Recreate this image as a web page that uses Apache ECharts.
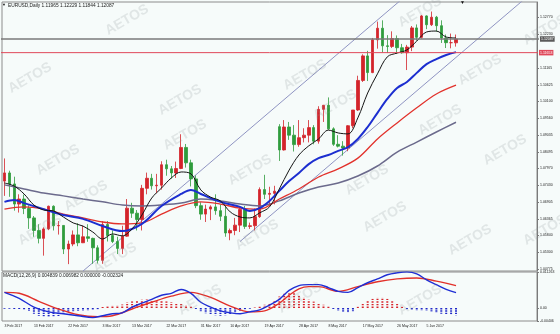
<!DOCTYPE html>
<html>
<head>
<meta charset="utf-8">
<title>EURUSD Daily</title>
<script src="https://cdn.jsdelivr.net/npm/echarts@6.0.0/dist/echarts.min.js"></script>
<style>
html,body{margin:0;padding:0;background:#f6fbfa;}
#chart{width:560px;height:334px;}
</style>
</head>
<body>
<div id="chart"></div>
<script>
const symbolName = 'EURUSD,Daily';
const dates = [
'3 Feb 2017','6 Feb 2017','7 Feb 2017','8 Feb 2017','9 Feb 2017','10 Feb 2017',
'13 Feb 2017','14 Feb 2017','15 Feb 2017','16 Feb 2017','17 Feb 2017',
'20 Feb 2017','21 Feb 2017','22 Feb 2017','23 Feb 2017','24 Feb 2017',
'27 Feb 2017','28 Feb 2017','1 Mar 2017','2 Mar 2017','3 Mar 2017',
'6 Mar 2017','7 Mar 2017','8 Mar 2017','9 Mar 2017','10 Mar 2017',
'13 Mar 2017','14 Mar 2017','15 Mar 2017','16 Mar 2017','17 Mar 2017',
'20 Mar 2017','21 Mar 2017','22 Mar 2017','23 Mar 2017','24 Mar 2017',
'27 Mar 2017','28 Mar 2017','29 Mar 2017','30 Mar 2017','31 Mar 2017',
'3 Apr 2017','4 Apr 2017','5 Apr 2017','6 Apr 2017','7 Apr 2017',
'10 Apr 2017','11 Apr 2017','12 Apr 2017','13 Apr 2017','14 Apr 2017',
'17 Apr 2017','18 Apr 2017','19 Apr 2017','20 Apr 2017','21 Apr 2017',
'24 Apr 2017','25 Apr 2017','26 Apr 2017','27 Apr 2017','28 Apr 2017',
'1 May 2017','2 May 2017','3 May 2017','4 May 2017','5 May 2017',
'8 May 2017','9 May 2017','10 May 2017','11 May 2017','12 May 2017',
'15 May 2017','16 May 2017','17 May 2017','18 May 2017','19 May 2017',
'22 May 2017','23 May 2017','24 May 2017','25 May 2017','26 May 2017',
'29 May 2017','30 May 2017','31 May 2017','1 Jun 2017','2 Jun 2017',
'5 Jun 2017','6 Jun 2017','7 Jun 2017','8 Jun 2017','9 Jun 2017',
'12 Jun 2017','13 Jun 2017'];
const opens = [
1.0757,1.0783,1.0748,1.0684,1.0700,1.0670,1.0640,1.0600,1.0575,1.0605,
1.0677,1.0615,1.0616,1.0541,1.0557,1.0586,1.0561,1.0580,1.0575,1.0545,
1.0505,1.0619,1.0584,1.0565,1.0543,1.0582,1.0671,1.0655,1.0635,1.0734,
1.0766,1.0742,1.0744,1.0809,1.0796,1.0783,1.0797,1.0864,1.0815,1.0764,
1.0679,1.0652,1.0668,1.0675,1.0663,1.0645,1.0592,1.0600,1.0617,1.0667,
1.0613,1.0615,1.0644,1.0730,1.0715,1.0718,1.0930,1.0856,1.0929,1.0903,
1.0873,1.0895,1.0903,1.0927,1.0884,1.0985,1.0998,1.0923,1.0874,1.0868,
1.0862,1.0933,1.0983,1.1077,1.1155,1.1102,1.1206,1.1243,1.1187,1.1185,
1.1210,1.1181,1.1165,1.1183,1.1244,1.1214,1.1282,1.1254,1.1278,1.1251,
1.1212,1.1197,1.11965];
const highs = [
1.0829,1.0790,1.0771,1.0715,1.0714,1.0680,1.0646,1.0620,1.0610,1.0679,
1.0680,1.0630,1.0617,1.0568,1.0600,1.0623,1.0615,1.0620,1.0577,1.0553,
1.0630,1.0630,1.0600,1.0580,1.0615,1.0700,1.0688,1.0665,1.0745,1.0784,
1.0780,1.0780,1.0820,1.0825,1.0805,1.0819,1.0906,1.0875,1.0825,1.0775,
1.0690,1.0682,1.0680,1.0715,1.0682,1.0680,1.0606,1.0640,1.0675,1.0678,
1.0625,1.0670,1.0737,1.0777,1.0739,1.0742,1.0938,1.0951,1.0945,1.0935,
1.0951,1.0925,1.0951,1.0935,1.0995,1.0999,1.1023,1.0928,1.0903,1.0884,
1.0935,1.0983,1.1092,1.1160,1.1171,1.1212,1.1264,1.1268,1.1221,1.1233,
1.1220,1.1193,1.1190,1.1250,1.1255,1.1285,1.1284,1.1296,1.1282,1.1268,
1.1223,1.1226,1.12229];
const lows = [
1.0710,1.0707,1.0663,1.0657,1.0652,1.0605,1.0580,1.0559,1.0520,1.0601,
1.0600,1.0587,1.0525,1.0493,1.0550,1.0550,1.0560,1.0564,1.0494,1.0495,
1.0494,1.0565,1.0560,1.0525,1.0525,1.0580,1.0640,1.0600,1.0600,1.0715,
1.0730,1.0719,1.0730,1.0774,1.0765,1.0767,1.0795,1.0800,1.0740,1.0671,
1.0634,1.0627,1.0633,1.0650,1.0630,1.0580,1.0569,1.0585,1.0595,1.0605,
1.0605,1.0600,1.0640,1.0700,1.0680,1.0683,1.0821,1.0854,1.0888,1.0851,
1.0866,1.0880,1.0880,1.0874,1.0876,1.0945,1.0920,1.0869,1.0864,1.0838,
1.0852,1.0925,1.0980,1.1072,1.1075,1.1100,1.1178,1.1166,1.1164,1.1180,
1.1161,1.1162,1.1110,1.1170,1.1204,1.1210,1.1240,1.1250,1.1232,1.1196,
1.1180,1.1179,1.11844];
const closes = [
1.0783,1.0748,1.0684,1.0700,1.0670,1.0640,1.0600,1.0575,1.0605,1.0677,
1.0615,1.0616,1.0541,1.0557,1.0586,1.0561,1.0580,1.0575,1.0545,1.0505,
1.0619,1.0584,1.0565,1.0543,1.0582,1.0671,1.0655,1.0635,1.0734,1.0766,
1.0742,1.0744,1.0809,1.0796,1.0783,1.0797,1.0864,1.0815,1.0764,1.0679,
1.0652,1.0668,1.0675,1.0663,1.0645,1.0592,1.0600,1.0617,1.0667,1.0613,
1.0615,1.0644,1.0730,1.0715,1.0718,1.0725,1.0856,1.0929,1.0903,1.0873,
1.0895,1.0903,1.0927,1.0884,1.0985,1.0998,1.0923,1.0874,1.0868,1.0862,
1.0933,1.0983,1.1077,1.1155,1.1102,1.1206,1.1243,1.1187,1.1185,1.1210,
1.1181,1.1165,1.1183,1.1244,1.1214,1.1282,1.1254,1.1278,1.1251,1.1212,
1.1197,1.1197,1.12087];

// moving averages: [bar index, price]
const maBlack = [[0,1.0751],[2,1.0741],[4,1.0716],[6,1.0681],[8,1.0665],[10,1.0662],[12,1.0643],[14,1.0624],[16,1.0614],[18,1.0595],[20,1.0573],[22,1.0589],[24,1.0583],[26,1.0605],[28,1.0649],[30,1.0703],[32,1.0735],[34,1.0767],[36,1.0786],[38,1.0780],[40,1.0729],[42,1.0706],[44,1.0694],[46,1.0659],[48,1.0643],[50,1.0640],[52,1.0656],[54,1.0675],[56,1.0732],[58,1.0792],[60,1.0840],[62,1.0869],[64,1.0891],[66,1.0919],[68,1.0910],[70,1.0907],[72,1.0958],[74,1.1037],[76,1.1098],[78,1.1152],[80,1.1164],[82,1.1174],[84,1.1202],[86,1.1231],[88,1.1234],[90,1.1215],[92,1.1212]];
const maBlue = [[0,1.0691],[2,1.0697],[4,1.0687],[8,1.0668],[12,1.0649],[16,1.0637],[20,1.0614],[24,1.0598],[28,1.0621],[32,1.0678],[36,1.0716],[38,1.0729],[40,1.0716],[44,1.0691],[48,1.0675],[50,1.0662],[52,1.0671],[54,1.0694],[56,1.0726],[58,1.0757],[60,1.0783],[62,1.0811],[64,1.0830],[66,1.0840],[68,1.0853],[70,1.0865],[72,1.0891],[74,1.0929],[76,1.0974],[78,1.1018],[80,1.1053],[82,1.1072],[84,1.1101],[86,1.1129],[88,1.1145],[90,1.1158],[92,1.1167]];
const maRed = [[0,1.0668],[4,1.0675],[8,1.0668],[12,1.0652],[16,1.0640],[20,1.0627],[24,1.0621],[28,1.0624],[32,1.0652],[36,1.0678],[40,1.0691],[44,1.0684],[48,1.0671],[52,1.0668],[56,1.0700],[60,1.0732],[64,1.0770],[68,1.0796],[72,1.0830],[76,1.0891],[80,1.0942],[84,1.0990],[88,1.1034],[92,1.1062]];
const maGray = [[0,1.0745],[4,1.0732],[8,1.0719],[12,1.0710],[16,1.0700],[20,1.0691],[24,1.0681],[28,1.0678],[32,1.0681],[36,1.0687],[40,1.0700],[44,1.0694],[48,1.0684],[52,1.0678],[56,1.0694],[60,1.0719],[64,1.0738],[68,1.0751],[72,1.0773],[76,1.0805],[80,1.0849],[84,1.0881],[88,1.0913],[92,1.0944]];
const channelUpper = [[16,1.0471],[82,1.1349]];
const channelLower = [[48,1.0565],[108,1.1363]];
const bidPrice = 1.12087;
const levelPrice = 1.11653;
const priceTicks = [1.12770,1.12230,1.11165,1.10625,1.10100,1.09560,1.09035,1.08495,1.07970,1.07430,1.06905,1.06365,1.05840,1.05300,1.04775];

const macdMain = [[0,0.0049],[3,0.0030],[6,0.0003],[9,-0.0012],[12,-0.0018],[15,-0.0024],[18,-0.0030],[20,-0.0024],[22,-0.0018],[24,-0.0015],[26,0.0003],[28,0.0015],[30,0.0027],[32,0.0040],[34,0.0046],[36,0.0058],[38,0.0046],[40,0.0018],[42,0.0003],[44,-0.0009],[46,-0.0015],[48,-0.0018],[50,-0.0012],[52,-0.0006],[54,0.0009],[56,0.0027],[58,0.0055],[60,0.0070],[62,0.0073],[64,0.0073],[66,0.0064],[68,0.0052],[70,0.0049],[72,0.0064],[74,0.0079],[76,0.0091],[78,0.0104],[80,0.0110],[82,0.0113],[84,0.0107],[86,0.0088],[88,0.0073],[90,0.0058],[92,0.0048]];
const macdSignal = [[0,0.0049],[3,0.0046],[7,0.0021],[11,-0.0003],[15,-0.0021],[19,-0.0027],[22,-0.0024],[26,-0.0003],[30,0.0018],[34,0.0037],[38,0.0049],[42,0.0033],[46,0.0006],[50,-0.0012],[53,-0.0009],[56,0.0015],[58,0.0040],[60,0.0060],[62,0.0067],[64,0.0067],[68,0.0052],[72,0.0067],[76,0.0082],[80,0.0091],[84,0.0094],[88,0.0084],[92,0.0070]];
const macdHist = [
-0.0002,-0.0002,-0.0003,-0.0003,-0.0005,-0.0009,-0.0018,-0.0024,-0.0027,-0.0028,
-0.0027,-0.0025,-0.0020,-0.0012,-0.0010,-0.0009,-0.0008,-0.0007,-0.0006,-0.0004,
0.0003,0.0006,0.0007,0.0008,0.0011,0.0017,0.0021,0.0024,0.0026,0.0027,
0.0026,0.0025,0.0023,0.0021,0.0018,0.0015,0.0013,0.0009,0.0005,-0.0003,
-0.0010,-0.0016,-0.0020,-0.0023,-0.0024,-0.0023,-0.0020,-0.0015,-0.0009,-0.0004,
-0.0002,0.0002,0.0005,0.0010,0.0016,0.0025,0.0036,0.0045,0.0050,0.0047,
0.0041,0.0033,0.0026,0.0020,0.0015,0.0010,0.0005,-0.0003,-0.0008,-0.0012,
-0.0013,-0.0010,0.0004,0.0014,0.0023,0.0029,0.0032,0.0032,0.0029,0.0022,
0.0013,0.0004,-0.0004,-0.0006,-0.0007,-0.0007,-0.0008,-0.0011,-0.0015,-0.0018,
-0.0020,-0.0022,-0.0023];
const macdTicks = [0.011263, 0, -0.00406];
const macdLegend = 'MACD(12,26,9) 0.004839 0.006982 0.000000 -0.002324';
const tickLabels = ['3 Feb 2017','13 Feb 2017','22 Feb 2017','3 Mar 2017','13 Mar 2017','22 Mar 2017','31 Mar 2017','10 Apr 2017','19 Apr 2017','28 Apr 2017','8 May 2017','17 May 2017','26 May 2017','5 Jun 2017'];
const priceMin = 1.04712, priceMax = 1.13263;
const macdMin = -0.00406, macdMax = 0.011263;

// ---------- build ----------
const padSlots = 16; // empty chart shift on the right
const cats = dates.concat(Array.from({length: padSlots}, (_, i) => '\u200b' + i));
const lastCat = cats.length - 1;
const last = dates.length - 1;
const header = symbolName + ' ' + [opens[last], highs[last], lows[last], closes[last]].map(v => v.toFixed(5)).join(' ');
const UP = '#d3242b', DOWN = '#2f9c3c';
const FONT = '"Liberation Sans", Arial, sans-serif';

const wmPos = [[30,78],[127,20],[180,100],[58,160],[86,196],[115,258],[185,135],[250,170],[305,75],[335,105],[257,235],[367,180],[385,217],[420,12],[480,70],[505,150],[470,240],[420,300],[300,298],[200,300],[40,230],[545,30],[545,230],[440,120]];
const graphics = wmPos.map(p => ({
  type: 'text', x: p[0], y: p[1], rotation: Math.PI / 6, silent: true, z: 100,
  style: {text: 'AETOS', font: 'bold 14px ' + FONT, fill: 'rgba(140,150,150,0.2)', align: 'center', verticalAlign: 'middle'}
}));
graphics.push({type: 'text', left: 2, top: 3, z: 110, style: {text: '\u25BC', font: '4px ' + FONT, fill: '#111'}});
graphics.push({type: 'text', left: 8, top: 3, z: 110, style: {text: header, font: '4.8px ' + FONT, fill: '#1a1a1a'}});
graphics.push({type: 'text', left: 3, top: 273, z: 110, style: {text: macdLegend, font: '4.8px ' + FONT, fill: '#1a1a1a'}});
graphics.push({type: 'text', left: 460, top: 0, z: 110, style: {text: '\u25BC', font: '5px ' + FONT, fill: '#111'}});

const lineS = (name, data, color, width, xi, yi) => ({
  name, type: 'line', data, xAxisIndex: xi, yAxisIndex: yi, symbol: 'none', smooth: 0.35,
  lineStyle: {color, width}, silent: true, z: 3
});
const hLine = (name, value, color, boxColor, width) => ({
  name, type: 'line', xAxisIndex: 0, yAxisIndex: 0, silent: true, z: 4, symbol: 'none',
  data: [[-1, value], [lastCat + 1, value]],
  lineStyle: {color, width},
  endLabel: {show: true, distance: 1, formatter: () => value.toFixed(5), backgroundColor: boxColor,
    color: '#fff', fontSize: 3.5, padding: [1, 1, 0.5, 1], fontFamily: FONT}
});

const option = {
  animation: false,
  backgroundColor: '#f6fbfa',
  graphic: graphics,
  grid: [
    {left: 2, right: 23, top: 2, height: 269, show: true, borderColor: '#8c8c8c', borderWidth: 1},
    {left: 2, right: 23, top: 272, height: 49, show: true, borderColor: '#8c8c8c', borderWidth: 1}
  ],
  xAxis: [
    {type: 'category', gridIndex: 0, data: cats, boundaryGap: true, show: false},
    {type: 'category', gridIndex: 1, data: cats, boundaryGap: true,
     axisLine: {show: false}, axisTick: {show: false}, splitLine: {show: false},
     axisLabel: {show: true, interval: (i, v) => tickLabels.indexOf(v) >= 0, align: 'left',
       fontSize: 3.5, color: '#222', margin: 3, fontFamily: FONT}}
  ],
  yAxis: [
    {type: 'value', gridIndex: 0, position: 'right', min: priceMin, max: priceMax,
     splitLine: {show: false},
     axisLine: {show: true, lineStyle: {color: '#7a7a7a'}},
     axisTick: {show: true, length: 2, customValues: priceTicks, lineStyle: {color: '#7a7a7a'}},
     axisLabel: {customValues: priceTicks, formatter: v => v.toFixed(5), fontSize: 3.5, color: '#222', margin: 3, fontFamily: FONT}},
    {type: 'value', gridIndex: 1, position: 'right', min: macdMin, max: macdMax,
     splitLine: {show: false},
     axisLine: {show: true, lineStyle: {color: '#7a7a7a'}},
     axisTick: {show: true, length: 2, customValues: macdTicks, lineStyle: {color: '#7a7a7a'}},
     axisLabel: {customValues: macdTicks, formatter: v => (v === 0 ? '0.00' : String(v)), fontSize: 3.5, color: '#222', margin: 3, fontFamily: FONT}}
  ],
  series: [
    {name: 'channelUpper', type: 'line', data: channelUpper, xAxisIndex: 0, yAxisIndex: 0, symbol: 'none', silent: true,
     lineStyle: {color: '#8f94c2', width: 1}, z: 1},
    {name: 'channelLower', type: 'line', data: channelLower, xAxisIndex: 0, yAxisIndex: 0, symbol: 'none', silent: true,
     lineStyle: {color: '#8f94c2', width: 1}, z: 1},
    hLine('level', levelPrice, '#e0485a', '#e0485a', 1),
    hLine('bid', bidPrice, '#7a7a7a', '#5a5a5a', 1.3),
    {name: 'EURUSD', type: 'candlestick', xAxisIndex: 0, yAxisIndex: 0, barWidth: 3,
     data: dates.map((d, i) => [opens[i], closes[i], lows[i], highs[i]]),
     itemStyle: {color: UP, color0: DOWN, borderColor: UP, borderColor0: DOWN, borderWidth: 0.8}, z: 2},
    lineS('maGray', maGray, '#6b6a8c', 1.5, 0, 0),
    lineS('maRed', maRed, '#e2322c', 1.3, 0, 0),
    lineS('maBlue', maBlue, '#1c2ed0', 2, 0, 0),
    lineS('maBlack', maBlack, '#141414', 1, 0, 0),
    {name: 'hist', type: 'pictorialBar', xAxisIndex: 1, yAxisIndex: 1, silent: true,
     symbol: 'rect', symbolSize: [2, 1.4], symbolRepeat: true, symbolMargin: 0.7, symbolClip: true,
     data: macdHist.map(v => ({value: v, itemStyle: {color: v >= 0 ? '#d8242a' : '#2129c8'}})), z: 2},
    lineS('macdSignal', macdSignal, '#e2302a', 1.4, 1, 1),
    lineS('macdMain', macdMain, '#1f2ed4', 1.4, 1, 1)
  ]
};
const chart = echarts.init(document.getElementById('chart'), null, {renderer: 'canvas'});
chart.setOption(option);
</script>
</body>
</html>
